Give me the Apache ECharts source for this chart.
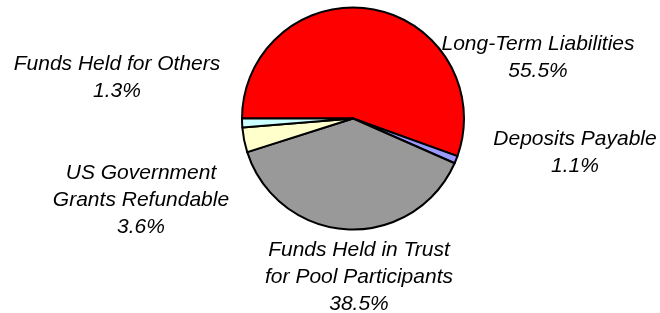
<!DOCTYPE html>
<html>
<head>
<meta charset="utf-8">
<script src="https://cdn.jsdelivr.net/npm/echarts@6/dist/echarts.min.js"></script>
<style>
html,body{margin:0;padding:0;background:#fff;}
#chart{width:660px;height:313px;}
</style>
</head>
<body>
<div id="chart"></div>
<script>
// Data
const categories = [
  'Long-Term Liabilities',
  'Deposits Payable',
  'Funds Held in Trust\nfor Pool Participants',
  'US Government\nGrants Refundable',
  'Funds Held for Others'
];
const percentages = [55.5, 1.1, 38.5, 3.6, 1.3];
const sliceColors = ['#FF0000', '#9999FF', '#999999', '#FFFFCC', '#CCFFFF'];

// Label block centres (layout only)
const labelCenters = [
  [538, 58],
  [575, 153],
  [359, 277],
  [141, 200],
  [117, 78]
];

const chart = echarts.init(document.getElementById('chart'), null, {renderer: 'canvas'});
chart.setOption({
  backgroundColor: '#ffffff',
  animation: false,
  series: [{
    type: 'pie',
    center: [353, 118.5],
    radius: 111,
    startAngle: 180,
    clockwise: true,
    avoidLabelOverlap: false,
    data: categories.map((c, i) => ({
      name: c,
      value: percentages[i],
      itemStyle: {color: sliceColors[i]}
    })),
    itemStyle: {borderColor: '#000', borderWidth: 2},
    emphasis: {disabled: true},
    label: {
      show: true,
      position: 'outside',
      formatter: p => p.name + '\n' + p.value.toFixed(1) + '%',
      fontFamily: '"Liberation Sans", Arial, sans-serif',
      fontStyle: 'italic',
      fontSize: 21,
      lineHeight: 27,
      color: '#000',
      align: 'center'
    },
    labelLine: {show: false},
    labelLayout: function (params) {
      const c = labelCenters[params.dataIndex];
      return {x: c[0], y: c[1], align: 'center', verticalAlign: 'middle'};
    }
  }]
});
</script>
</body>
</html>
